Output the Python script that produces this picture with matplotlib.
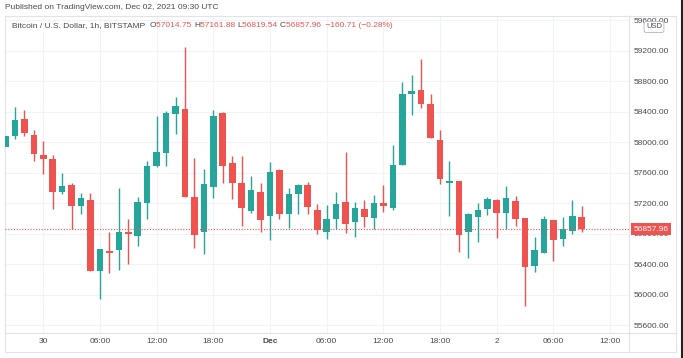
import matplotlib
matplotlib.use("Agg")
import matplotlib.pyplot as plt
import matplotlib.dates as mdates
from matplotlib.lines import Line2D
from matplotlib.offsetbox import TextArea, HPacker, AnnotationBbox
import pandas as pd

## hourly BTC/USD candles, Bitstamp
opens = [57937, 58085, 58307, 58098, 57837, 57780, 57349, 57436, 57162, 57244,
         56312, 56578, 56591, 56813, 56769, 57196, 57684, 57859, 58364, 58438,
         57283, 56826, 57414, 58381, 57728, 57466, 57096, 57345, 57031, 57641,
         57053, 57323, 57432, 57109, 56822, 56987, 57218, 56952, 57118, 57009,
         57205, 57131, 57706, 58634, 58678, 58503, 58033, 57466, 57493, 56822,
         57022, 57118, 57240, 57066, 57227, 57000, 56369, 56547, 56974, 56734,
         56835, 57014.75]
highs = [58080, 58456, 58425, 58155, 58011, 57837, 57597, 57466, 57336, 57336,
         56600, 56826, 57392, 56987, 57283, 57750, 58338, 58403, 58591, 59244,
         57793, 57650, 58425, 58390, 57815, 57815, 57562, 57458, 57741, 57645,
         57401, 57445, 57475, 57183, 57170, 57349, 57867, 57218, 57236, 57305,
         57432, 57963, 58795, 58878, 59087, 58634, 58164, 57750, 57495, 57074,
         57196, 57283, 57253, 57423, 57292, 57005, 56761, 57031, 56980, 57018,
         57240, 57161.88]
lows = [57930, 58042, 58076, 57750, 57588, 57127, 57323, 56857, 57061, 56310,
        55942, 56281, 56321, 56399, 56639, 56987, 57670, 57693, 58103, 57280,
        56608, 56538, 57270, 57466, 57257, 56900, 57074, 56822, 56717, 56996,
        56874, 57053, 57053, 56791, 56726, 56865, 56813, 56756, 56887, 56857,
        57083, 57109, 57700, 58355, 58447, 58050, 57445, 57031, 56560, 56486,
        56695, 57044, 56739, 56865, 56900, 55854, 56299, 56540, 56443, 56639,
        56791, 56819.54]
closes = [58076, 58294, 58120, 57846, 57780, 57345, 57419, 57157, 57266, 56312,
          56599, 56552, 56826, 56800, 57214, 57684, 57867, 58381, 58477, 57283,
          56782, 57453, 58347, 57684, 57466, 57140, 57371, 56979, 57606, 57061,
          57323, 57432, 57153, 56848, 56987, 57188, 56922, 57131, 57022, 57205,
          57166, 57706, 58630, 58673, 58499, 58055, 57519, 57484, 56778, 57053,
          57105, 57257, 57074, 57270, 56996, 56360, 56582, 56987, 56713, 56857,
          57031, 56857.96]
times = pd.date_range("2021-11-29 20:00", periods=len(opens), freq="h")

tick_times = pd.date_range("2021-11-30 00:00", "2021-12-02 12:00", freq="6h")
tick_labels = ["30", "06:00", "12:00", "18:00", "Dec", "06:00", "12:00",
               "18:00", "2", "06:00", "12:00"]
price_ticks = list(range(55600, 59601, 400))
last_price = 56857.96

title = "Published on TradingView.com, Dec 02, 2021 09:30 UTC"
legend_parts = [("Bitcoin / U.S. Dollar, 1h, BITSTAMP  ", "#4a4a4a"),
                ("O", "#4a4a4a"), ("57014.75 ", "#ef5350"),
                ("H", "#4a4a4a"), ("57161.88 ", "#ef5350"),
                ("L", "#4a4a4a"), ("56819.54 ", "#ef5350"),
                ("C", "#4a4a4a"), ("56857.96 ", "#ef5350"),
                (" \u2212160.71 (\u22120.28%)", "#ef5350")]

UP = "#26a69a"
DOWN = "#ef5350"
BORDER = "#e0e3eb"
GRID = "#f0f3fa"
TEXT = "#4a4a4a"

W, H = 683, 358
plt.rcParams["font.family"] = ["Liberation Sans", "DejaVu Sans"]


def fx(px):
    return px / W


def fy(py):
    return 1 - py / H


def fig_line(x0, y0, x1, y1):
    fig.add_artist(Line2D([fx(x0), fx(x1)], [fy(y0), fy(y1)],
                          transform=fig.transFigure, color=BORDER, lw=0.8))


fig = plt.figure(figsize=(W / 100, H / 100), dpi=100)
top, bottom, left, right = 16, 332.7, 5, 629
ax = fig.add_axes([fx(left), fy(bottom), fx(right) - fx(left), fy(top) - fy(bottom)])

x = mdates.date2num(times)
colors = [UP if c >= o else DOWN for o, c in zip(opens, closes)]
body_low = [min(o, c) for o, c in zip(opens, closes)]
body_h = [max(abs(c - o), 15) for o, c in zip(opens, closes)]
ax.vlines(x, lows, highs, colors=colors, lw=1, zorder=2)
ax.bar(x, body_h, bottom=body_low, width=0.7 / 24, color=colors, zorder=3)

ax.axhline(last_price, color=DOWN, lw=0.8, ls=(0, (1, 1.5)), zorder=4)

t0 = mdates.date2num(pd.Timestamp("2021-11-30"))
ax.set_xlim(t0 - 4.05 / 24, t0 + 62.0 / 24)
ax.set_ylim(55500, 59655)

ax.set_xticks(mdates.date2num(tick_times))
ax.set_xticklabels(tick_labels)
for lab in ax.get_xticklabels():
    if lab.get_text() == "Dec":
        lab.set_fontweight("bold")
ax.yaxis.tick_right()
ax.set_yticks(price_ticks)
ax.set_yticklabels(["{:.2f}".format(v) for v in price_ticks])
ax.tick_params(axis="x", length=0, pad=4, labelsize=6, colors=TEXT)
ax.tick_params(axis="y", length=0, pad=3, labelsize=6, colors=TEXT)
ax.grid(color=GRID, lw=0.8)
ax.set_axisbelow(True)
for s in ax.spines.values():
    s.set_color(BORDER)
    s.set_linewidth(0.8)

# outer frame around the price and time scales
fig_line(right, top, 676, top)
fig_line(676, top, 676, 352)
fig_line(left, 352, 676, 352)
fig_line(left, bottom, left, 352)
fig_line(right, bottom, right, 352)
fig_line(right, bottom, 676, bottom)
fig.add_artist(Line2D([fx(682), fx(682)], [0, 1], transform=fig.transFigure,
                      color="#222222", lw=1.5))

ax.text(1.0075, last_price, "{:.2f}".format(last_price), transform=ax.get_yaxis_transform(),
        ha="left", va="center", fontsize=6, color="white", zorder=6, clip_on=False,
        bbox=dict(boxstyle="square,pad=0.3", fc=DOWN, ec="none"))

fig.text(fx(654), fy(27), "USD", ha="center", va="center", fontsize=5.5, color=TEXT,
         zorder=10, bbox=dict(boxstyle="round,pad=0.25", fc="white", ec="#b2b5be", lw=0.6))

fig.text(fx(5), fy(7.5), title, ha="left", va="center", fontsize=6, color=TEXT)

parts = [TextArea(t, textprops=dict(color=c, fontsize=6)) for t, c in legend_parts]
pack = HPacker(children=parts, pad=0, sep=0, align="baseline")
ab = AnnotationBbox(pack, (12, H - 25.5), xycoords="figure pixels",
                    box_alignment=(0, 0.5), frameon=False, pad=0)
fig.add_artist(ab)

fig.savefig("out.png", dpi=100)
